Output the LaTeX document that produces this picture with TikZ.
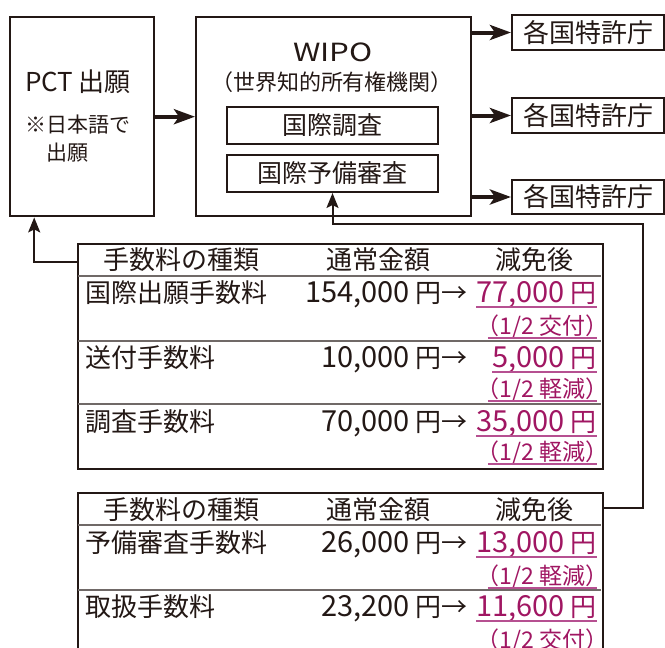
\documentclass[tikz,border=0pt]{standalone}
\usepackage{fontspec}
\setmainfont{Noto Sans CJK JP}
\newfontfamily\widelat[FakeStretch=1.25]{Noto Sans CJK JP}
\usetikzlibrary{arrows.meta,calc}
\definecolor{ink}{RGB}{35,24,21}
\definecolor{mag}{RGB}{160,22,98}
\definecolor{magl}{RGB}{182,80,145}
\newcommand{\lpar}{\kern-0.5em（}
\newcommand{\rpar}{）\kern-0.5em}
\newcommand{\bignum}[1]{{\fontsize{29}{30}\selectfont #1}}
\begin{document}
\begin{tikzpicture}[x=1pt,y=-1pt,
  s26/.style={font=\fontsize{26}{30}\selectfont, inner sep=0pt, text=ink, text height=22.1pt, text depth=2.9pt},
  s25/.style={font=\fontsize{25}{29}\selectfont, inner sep=0pt, text=ink, text height=21.2pt, text depth=2.8pt},
  s22/.style={font=\fontsize{22}{26}\selectfont, inner sep=0pt, text=ink, text height=18.7pt, text depth=2.4pt},
  s21/.style={font=\fontsize{21}{25}\selectfont, inner sep=0pt, text=ink, text height=17.9pt, text depth=2.3pt},
  s23/.style={font=\fontsize{23}{27}\selectfont, inner sep=0pt, text=ink, text height=19.6pt, text depth=2.5pt},
  outerbox/.style={draw=ink, line width=2.4pt, inner sep=0pt},
  innerbox/.style={draw=ink, line width=2pt, inner sep=0pt},
  tbl/.style={draw=ink, line width=1.6pt, inner sep=0pt},
  sep/.style={draw=ink!65, line width=1.1pt},
  barr/.style={draw=ink, line width=4pt, -{Stealth[length=21pt,width=15pt,inset=5pt]}},
  tarr/.style={draw=ink, line width=2pt, -{Stealth[length=15pt,width=12pt,inset=3pt]}},
  amt/.style={s26, text=mag},
  note/.style={s23, text=mag},
  uline/.style={draw=magl, line width=1.5pt}
]
\useasboundingbox (0,0) rectangle (665,648);
\clip (0,0) rectangle (665,648);

% PCT box
\node[outerbox, minimum width=144pt, minimum height=199pt, anchor=north west] (pct) at (9,16) {};
\node[s26] (pcttitle) at (78,82) {PCT 出願};
\node[s21, anchor=west] (pctnote1) at (25,125) {※日本語で};
\node[s21, anchor=west] (pctnote2) at (46,153) {出願};

% WIPO box
\node[outerbox, minimum width=275pt, minimum height=199pt, anchor=north west] (wipo) at (195,16) {};
\node[s25, font=\fontsize{25}{29}\widelat] (wipot) at (333,52) {WIPO};
\node[s22] (wipos) at (332,82) {\lpar 世界知的所有権機関\rpar};
\node[innerbox, s25, draw=ink, minimum width=211pt, minimum height=37pt] (isr) at (332.5,125.5) {国際調査};
\node[innerbox, s25, draw=ink, minimum width=211pt, minimum height=37pt] (pre) at (332.5,173.5) {国際予備審査};

% Offices
\node[innerbox, s26, draw=ink, minimum width=152pt, minimum height=35pt] (off1) at (588,32.5) {各国特許庁};
\node[innerbox, s26, draw=ink, minimum width=152pt, minimum height=35pt] (off2) at (588,115.5) {各国特許庁};
\node[innerbox, s26, draw=ink, minimum width=152pt, minimum height=34pt] (off3) at (588,197) {各国特許庁};

\draw[barr] (pct.east) -- (pct.east -| wipo.west);
\draw[barr] (off1.west -| wipo.east) -- (off1.west);
\draw[barr] (off2.west -| wipo.east) -- (off2.west);
\draw[barr] (off3.west -| wipo.east) -- (off3.west);

% Table 1
\node[tbl, minimum width=525pt, minimum height=225pt, anchor=north west] (t1) at (77,243) {};
\draw[sep] (78,276) -- (601,276);
\draw[sep] (78,341) -- (601,341);
\draw[sep] (78,404) -- (601,404);
\node[s26] (h1a) at (181,260) {手数料の種類};
\node[s26] (h1b) at (378,260) {通常金額};
\node[s26] (h1c) at (534,260) {減免後};

\node[s26, anchor=west] (r1a) at (85,293) {国際出願手数料};
\node[s26, anchor=east] (r1b) at (468,293) {\bignum{154,000} 円→};
\node[amt, anchor=east] (r1c) at (597,293) {\bignum{77,000} 円};
\node[note, anchor=east] (r1d) at (597,326) {\lpar 1/2 交付\rpar};

\node[s26, anchor=west] (r2a) at (85,358) {送付手数料};
\node[s26, anchor=east] (r2b) at (468,358) {\bignum{10,000} 円→};
\node[amt, anchor=east] (r2c) at (597,358) {\bignum{5,000} 円};
\node[note, anchor=east] (r2d) at (597,389) {\lpar 1/2 軽減\rpar};

\node[s26, anchor=west] (r3a) at (85,422) {調査手数料};
\node[s26, anchor=east] (r3b) at (468,422) {\bignum{70,000} 円→};
\node[amt, anchor=east] (r3c) at (597,422) {\bignum{35,000} 円};
\node[note, anchor=east] (r3d) at (597,452) {\lpar 1/2 軽減\rpar};

% Table 2
\node[tbl, minimum width=525pt, minimum height=220pt, anchor=north west] (t2) at (77,492) {};
\draw[sep] (78,525) -- (601,525);
\draw[sep] (78,590) -- (601,590);
\node[s26] (h2a) at (181,510) {手数料の種類};
\node[s26] (h2b) at (378,510) {通常金額};
\node[s26] (h2c) at (534,510) {減免後};

\node[s26, anchor=west] (q1a) at (85,543) {予備審査手数料};
\node[s26, anchor=east] (q1b) at (468,543) {\bignum{26,000} 円→};
\node[amt, anchor=east] (q1c) at (597,543) {\bignum{13,000} 円};
\node[note, anchor=east] (q1d) at (597,576) {\lpar 1/2 軽減\rpar};

\node[s26, anchor=west] (q2a) at (85,607) {取扱手数料};
\node[s26, anchor=east] (q2b) at (468,607) {\bignum{23,200} 円→};
\node[amt, anchor=east] (q2c) at (597,607) {\bignum{11,600} 円};
\node[note, anchor=east] (q2d) at (597,640) {\lpar 1/2 交付\rpar};

% underlines
\foreach \n in {r1c,r2c,r3c,q1c,q2c}{
  \draw[uline] ([yshift=-1.5pt]\n.south west) -- ([yshift=-1.5pt]\n.south east);
}
\foreach \n in {r1d,r2d,r3d,q1d,q2d}{
  \draw[uline] ([yshift=-0.5pt]\n.south west) -- ([yshift=-0.5pt]\n.south east);
}

% feedback connectors
\coordinate (t1hl) at (77,262);
\coordinate (t2hr) at (602,508);
\draw[tarr] (t1hl) -| ([xshift=-48pt]pct.south);
\draw[tarr] (t2hr) -- ++(41,0) |- ([yshift=-31pt]pre.south) -- (pre.south);
\end{tikzpicture}
\end{document}
